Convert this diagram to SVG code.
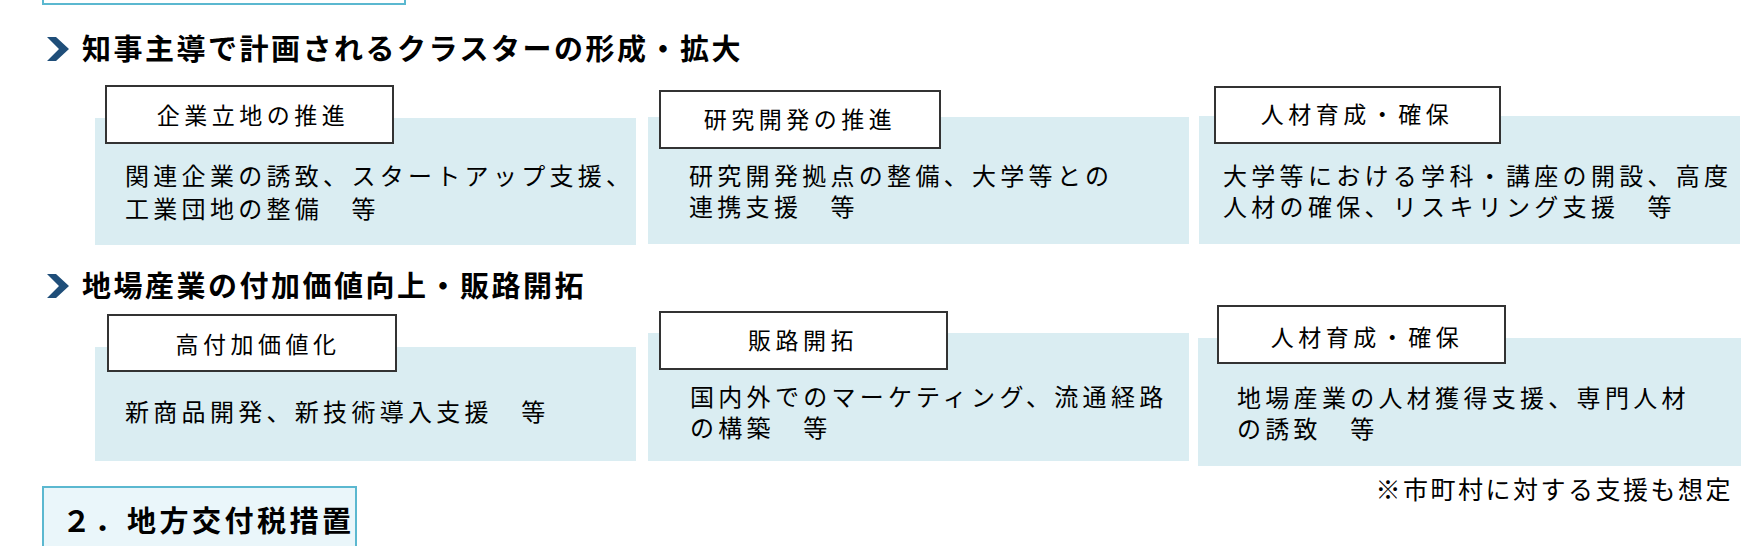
<svg xmlns="http://www.w3.org/2000/svg" width="1755" height="546" viewBox="0 0 1755 546">
<style>
text{font-family:"Noto Sans CJK JP","Noto Sans CJK SC",sans-serif;fill:#000}
.h{font-size:29px;font-weight:bold;letter-spacing:2.5px}
.l{font-size:23px;letter-spacing:4.5px;text-anchor:middle}
.b{font-size:24px;letter-spacing:4.3px}
.p{fill:#daedf2}
.bx{fill:#fff;stroke:#333;stroke-width:2}
.ch{fill:#1f4e79}
</style>
<rect width="1755" height="546" fill="#fff"/>
<rect x="43" y="-10" width="362" height="14" fill="#fff" stroke="#5bb8d0" stroke-width="2"/>
<g id="sec1">
<polygon class="ch" points="47,37 56,37 69,49 56,61 47,61 59,49"/>
<text class="h" x="82" y="60">知事主導で計画されるクラスターの形成・拡大</text>
</g>
<g id="n1"><rect class="p" x="95" y="118" width="541" height="127"/><rect class="bx" x="106" y="86" width="287" height="57"/>
<text class="l" x="253" y="124">企業立地の推進</text>
<text class="b" x="125" y="185">関連企業の誘致、スタートアップ支援、</text><text class="b" x="125" y="218">工業団地の整備　等</text></g>
<g id="n2"><rect class="p" x="648" y="117" width="541" height="127"/><rect class="bx" x="660" y="91" width="280" height="57"/>
<text class="l" x="800" y="128">研究開発の推進</text>
<text class="b" x="689" y="185">研究開発拠点の整備、大学等との</text><text class="b" x="689" y="216">連携支援　等</text></g>
<g id="n3"><rect class="p" x="1199" y="116" width="541" height="128"/><rect class="bx" x="1215" y="87" width="285" height="56"/>
<text class="l" x="1357" y="123">人材育成・確保</text>
<text class="b" x="1223" y="185">大学等における学科・講座の開設、高度</text><text class="b" x="1223" y="216">人材の確保、リスキリング支援　等</text></g>
<g id="sec2">
<polygon class="ch" points="47,274 56,274 69,286 56,298 47,298 59,286"/>
<text class="h" x="82" y="297">地場産業の付加価値向上・販路開拓</text>
</g>
<g id="n4"><rect class="p" x="95" y="347" width="541" height="114"/><rect class="bx" x="108" y="315" width="288" height="56"/>
<text class="l" x="258" y="353">高付加価値化</text>
<text class="b" x="125" y="421">新商品開発、新技術導入支援　等</text></g>
<g id="n5"><rect class="p" x="648" y="333" width="541" height="128"/><rect class="bx" x="660" y="312" width="287" height="57"/>
<text class="l" x="803" y="349">販路開拓</text>
<text class="b" x="690" y="406">国内外でのマーケティング、流通経路</text><text class="b" x="690" y="437">の構築　等</text></g>
<g id="n6"><rect class="p" x="1198" y="338" width="543" height="128"/><rect class="bx" x="1218" y="306" width="287" height="57"/>
<text class="l" x="1367" y="346">人材育成・確保</text>
<text class="b" x="1237" y="407">地場産業の人材獲得支援、専門人材</text><text class="b" x="1237" y="438">の誘致　等</text></g>
<text class="b" x="1733" y="499" text-anchor="end" style="font-size:25px;letter-spacing:2.5px">※市町村に対する支援も想定</text>
<g id="sec3"><rect x="43" y="487" width="313" height="70" fill="#eaf6fa" stroke="#5bb8d0" stroke-width="2"/>
<text class="h" x="62" y="532" style="letter-spacing:3.5px">２．地方交付税措置</text></g>
</svg>
